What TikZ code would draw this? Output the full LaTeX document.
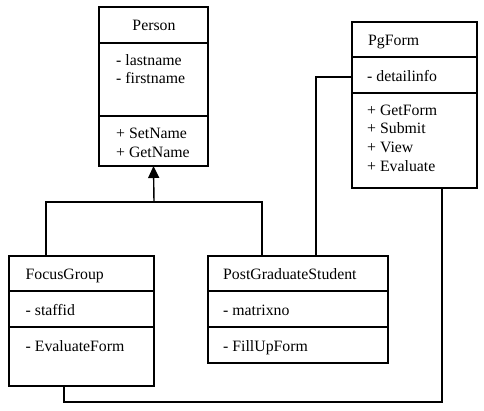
\documentclass[tikz,border=0pt]{standalone}
\usepackage{fontspec}
\setmainfont{Liberation Serif}
\usetikzlibrary{arrows.meta,calc}
\begin{document}
\begin{tikzpicture}[x=1pt,y=-1pt,
  box/.style={draw,line width=1.4pt,anchor=north west,inner sep=0pt,outer sep=0pt},
  txt/.style={anchor=base west,inner sep=0pt,font=\fontsize{15.8}{18}\selectfont},
  ttl/.style={anchor=base,inner sep=0pt,font=\fontsize{15.8}{18}\selectfont},
  sep/.style={line width=1.4pt},
  link/.style={line width=1.4pt}]
\useasboundingbox (0,0) rectangle (484,410);
% Person
\node[box,minimum width=109pt,minimum height=159pt] (person) at (99,7) {};
\draw[sep] ($(person.north west)+(0,36)$) -- ($(person.north east)+(0,36)$);
\draw[sep] ($(person.north west)+(0,109)$) -- ($(person.north east)+(0,109)$);
\node[ttl] (pt) at (154,30) {Person};
\node[txt] (p1) at (116,65) {- lastname};
\node[txt] (p2) at (116,83.5) {- firstname};
\node[txt] (p3) at (116,138) {+ SetName};
\node[txt] (p4) at (116,157) {+ GetName};
% PgForm
\node[box,minimum width=125pt,minimum height=166pt] (pgform) at (352,22) {};
\draw[sep] ($(pgform.north west)+(0,35)$) -- ($(pgform.north east)+(0,35)$);
\draw[sep] ($(pgform.north west)+(0,71)$) -- ($(pgform.north east)+(0,71)$);
\node[txt] (f0) at (368,45) {PgForm};
\node[txt] (f1) at (367,81) {- detailinfo};
\node[txt] (f2) at (367,115) {+ GetForm};
\node[txt] (f3) at (367,133.5) {+ Submit};
\node[txt] (f4) at (367,152) {+ View};
\node[txt] (f5) at (367,171) {+ Evaluate};
% FocusGroup
\node[box,minimum width=145pt,minimum height=130pt] (fg) at (9,256) {};
\draw[sep] ($(fg.north west)+(0,35)$) -- ($(fg.north east)+(0,35)$);
\draw[sep] ($(fg.north west)+(0,71)$) -- ($(fg.north east)+(0,71)$);
\node[txt] (g0) at (25.5,279) {FocusGroup};
\node[txt] (g1) at (25.5,315) {- staffid};
\node[txt] (g2) at (25.5,351) {- EvaluateForm};
% PostGraduateStudent
\node[box,minimum width=180pt,minimum height=107pt] (pgs) at (208,256) {};
\draw[sep] ($(pgs.north west)+(0,35)$) -- ($(pgs.north east)+(0,35)$);
\draw[sep] ($(pgs.north west)+(0,71)$) -- ($(pgs.north east)+(0,71)$);
\node[txt] (s0) at (223,279) {PostGraduateStudent};
\node[txt] (s1) at (223,315) {- matrixno};
\node[txt] (s2) at (223,351) {- FillUpForm};
% inheritance
\coordinate (j) at (154,202);
\draw[link,-{Triangle[length=12pt,width=11pt]}] (j) -- (person.south);
\draw[link] ($(fg.north west)+(37,0)$) |- (j) -| ($(pgs.north west)+(54,0)$);
% association PGS - PgForm
\draw[link] ($(pgs.north west)+(108,0)$) |- ($(pgform.north west)+(0,55)$);
% association PgForm - FocusGroup
\coordinate (c1) at ($(pgform.south west)+(90,214)$);
\draw[link] ($(pgform.south west)+(90,0)$) -- (c1) -| ($(fg.south west)+(55,0)$);
\end{tikzpicture}
\end{document}
